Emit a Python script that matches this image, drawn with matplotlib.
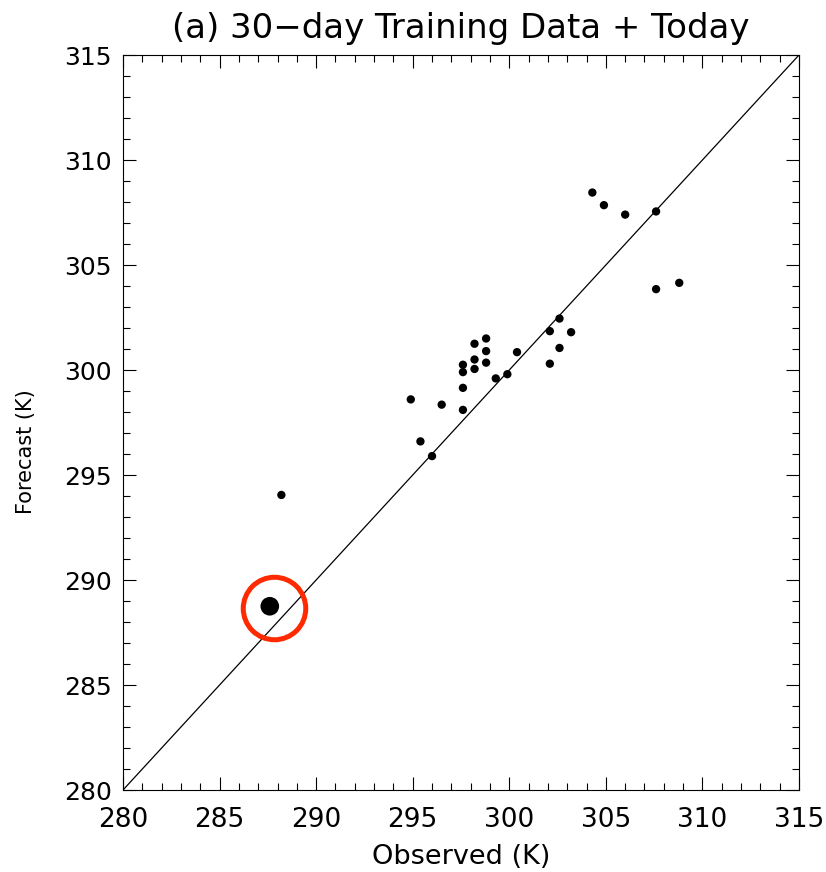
import matplotlib
matplotlib.use("Agg")
import matplotlib.pyplot as plt
from matplotlib.ticker import MultipleLocator

# 30-day training sample: observed vs forecast 2 m temperature (K)
observed = [304.3, 304.9, 306.0, 307.6, 307.6, 308.8, 302.6, 302.1, 303.2,
            302.6, 302.1, 300.4, 299.9, 299.3, 298.8, 298.8, 298.8, 298.2,
            298.2, 298.2, 297.6, 297.6, 297.6, 297.6, 296.5, 294.9, 295.4,
            296.0, 288.2]
forecast = [308.45, 307.85, 307.4, 307.55, 303.85, 304.15, 302.45, 301.85,
            301.8, 301.05, 300.3, 300.85, 299.8, 299.6, 301.5, 300.9, 300.35,
            301.25, 300.5, 300.05, 300.25, 299.9, 299.15, 298.1, 298.35,
            298.6, 296.6, 295.9, 294.05]

# today's case
today_obs = 287.6
today_fc = 288.75

x_range = (280, 315)
y_range = (280, 315)
major_ticks = [280, 285, 290, 295, 300, 305, 310, 315]

fig = plt.figure(figsize=(8.26, 8.72), dpi=100)
ax = fig.add_axes([123 / 826, 1 - 790 / 872, 676 / 826, 735 / 872])

ax.plot(x_range, y_range, color="black", lw=0.9, zorder=1)
ax.scatter(observed, forecast, s=36, color="black", edgecolors="none", zorder=3)
ax.scatter([today_obs], [today_fc], s=180, color="black", edgecolors="none", zorder=4)
ax.plot([today_obs + 0.2], [today_fc - 0.1], marker="o", markersize=45,
        markerfacecolor="none", markeredgecolor="#ff2a00", markeredgewidth=3.6,
        zorder=5)

ax.set_xlim(*x_range)
ax.set_ylim(*y_range)
ax.set_xticks(major_ticks)
ax.set_yticks(major_ticks)
ax.xaxis.set_minor_locator(MultipleLocator(1))
ax.yaxis.set_minor_locator(MultipleLocator(1))
ax.tick_params(which="both", direction="in", top=True, right=True, width=0.8)
ax.tick_params(which="major", length=9.5)
ax.tick_params(which="minor", length=5)
ax.tick_params(axis="x", which="major", labelsize=19, pad=12)
ax.tick_params(axis="y", which="major", labelsize=18, pad=8)
for s in ax.spines.values():
    s.set_linewidth(0.8)

ax.set_xlabel("Observed (K)", fontsize=19.5, labelpad=8)
ax.set_ylabel("Forecast (K)", fontsize=15)
ax.yaxis.set_label_coords(-0.128, 0.46)
ax.set_title("(a) 30\u2212day Training Data + Today", fontsize=24.5, pad=12)

fig.savefig("out.png", dpi=100)
